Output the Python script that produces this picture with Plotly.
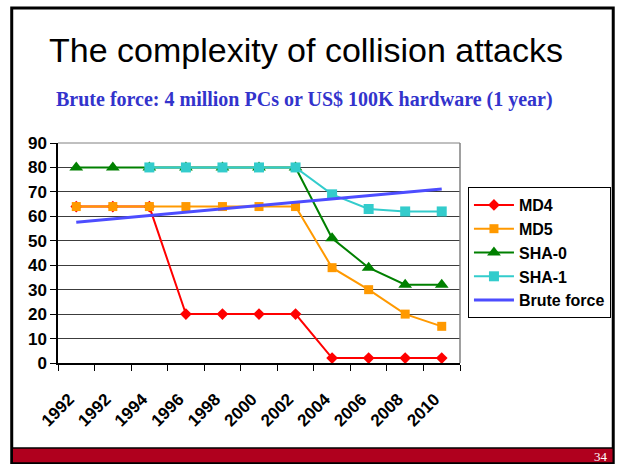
'''
    Slide chart: the complexity of collision attacks on hash functions.
'''
import plotly.graph_objects as go

YEAR_LABELS = ["1992", "1992", "1994", "1996", "1998", "2000",
               "2002", "2004", "2006", "2008", "2010"]
MD4 = [64, 64, 64, 20, 20, 20, 20, 2, 2, 2, 2]
MD5 = [64, 64, 64, 64, 64, 64, 64, 39, 30, 20, 15]
SHA0 = [80, 80, 80, 80, 80, 80, 80, 51, 39, 32, 32]
SHA1 = [None, None, 80, 80, 80, 80, 80, 69, 63, 62, 62]
BRUTE_X = [0, 10]
BRUTE = [57.6, 71.2]

W, H = 623, 464
# plot area in pixels
L, R, T, B = 58, 462, 143, 363


def px(x):
    return (x - L) / (R - L)


def py(y):
    return (B - y) / (B - T)


def generate_plot():
    '''
        Builds the figure.
    '''
    idx = list(range(len(YEAR_LABELS)))
    fig = go.Figure()

    fig.add_trace(go.Scatter(
        x=idx, y=MD4, name="MD4", mode="lines+markers", legendgroup="a",
        line=dict(color="#ff0000", width=2),
        marker=dict(symbol="diamond", size=9, color="#ff0000"),
    ))
    fig.add_trace(go.Scatter(
        x=idx, y=MD5, name="MD5", mode="lines+markers", legendgroup="b",
        line=dict(color="#ff9900", width=2),
        marker=dict(symbol="square", size=9, color="#ff9900"),
    ))
    fig.add_trace(go.Scatter(
        x=idx, y=SHA0, name="SHA-0", mode="lines+markers", legendgroup="c",
        line=dict(color="#008000", width=2),
        marker=dict(symbol="triangle-up", size=12, color="#008000"),
    ))
    fig.add_trace(go.Scatter(
        x=idx, y=SHA1, name="SHA-1", mode="lines+markers", legendgroup="d",
        line=dict(color="#33cccc", width=2),
        marker=dict(symbol="square", size=10, color="#33cccc"),
    ))
    fig.add_trace(go.Scatter(
        x=BRUTE_X, y=BRUTE, name="Brute force", mode="lines", legendgroup="e",
        line=dict(color="#4d4dff", width=3),
    ))

    fig.update_xaxes(
        range=[-0.5, 10.5],
        tickmode="array",
        tickvals=idx,
        ticktext=YEAR_LABELS,
        tickangle=-45,
        ticks="",
        ticklabelstandoff=18,
        ticklabelshift=-7,
        showgrid=False,
        zeroline=False,
        showline=True,
        linecolor="#000000",
        linewidth=1.5,
        tickfont=dict(family="Arial, Liberation Sans", size=17, color="#000000",
                      weight="bold"),
        minor=dict(tick0=-0.5, dtick=1, ticks="outside", ticklen=6,
                   tickcolor="#000000", tickwidth=1, showgrid=False),
    )
    fig.update_yaxes(
        range=[0, 90],
        tickmode="linear",
        dtick=10,
        ticks="outside",
        ticklen=6,
        tickcolor="#000000",
        showgrid=True,
        gridcolor="#3c3c3c",
        gridwidth=1,
        zeroline=False,
        showline=True,
        linecolor="#000000",
        linewidth=1.5,
        tickfont=dict(family="Arial, Liberation Sans", size=17, color="#000000",
                      weight="bold"),
    )

    # grey border on top / right of the plot area
    fig.add_shape(type="line", xref="paper", yref="paper",
                  x0=1, x1=1, y0=0, y1=1, line=dict(color="#808080", width=1.5))
    fig.add_shape(type="line", xref="paper", yref="paper",
                  x0=0, x1=1, y0=1, y1=1, line=dict(color="#808080", width=1))

    # slide frame and red footer bar
    fig.add_shape(type="rect", xref="paper", yref="paper", layer="below",
                  x0=px(11.5), x1=px(616), y0=py(8), y1=py(463),
                  line=dict(color="#000000", width=3))
    fig.add_shape(type="rect", xref="paper", yref="paper",
                  x0=px(12), x1=px(616), y0=py(448), y1=py(463),
                  fillcolor="#b0001e", line=dict(color="#000000", width=1.5))

    fig.add_annotation(
        text="The complexity of collision attacks",
        xref="paper", yref="paper", x=px(307.5), y=py(50),
        xanchor="center", yanchor="middle", showarrow=False,
        font=dict(family="Arial, Liberation Sans", size=34, color="#000000"),
    )
    fig.add_annotation(
        text="<b>Brute force: 4 million PCs or US$ 100K hardware (1 year)</b>",
        xref="paper", yref="paper", x=px(306), y=py(99),
        xanchor="center", yanchor="middle", showarrow=False,
        font=dict(family="Times New Roman, Liberation Serif", size=20,
                  color="#3333cc"),
    )
    fig.add_annotation(
        text="34",
        xref="paper", yref="paper", x=px(613), y=py(456),
        xanchor="right", yanchor="middle", showarrow=False,
        font=dict(family="Times New Roman, Liberation Serif", size=13,
                  color="#ffffff"),
    )

    fig.update_layout(
        width=W, height=H,
        autosize=False,
        paper_bgcolor="#FFFFFF",
        plot_bgcolor="#FFFFFF",
        margin=dict(l=L, r=W - R, t=T, b=H - B, pad=0),
        font=dict(family="Arial, Liberation Sans", size=16, color="#000000"),
        legend=dict(
            x=px(470), y=py(187),
            xanchor="left", yanchor="top",
            bgcolor="#FFFFFF",
            bordercolor="#000000",
            borderwidth=1,
            itemwidth=40,
            tracegroupgap=0,
            font=dict(family="Arial, Liberation Sans", size=16, color="#000000",
                      weight="bold"),
        ),
    )
    return fig


fig = generate_plot()
fig.write_html("out.html", config={"displayModeBar": False},
               post_script="document.body.style.margin='0';")
